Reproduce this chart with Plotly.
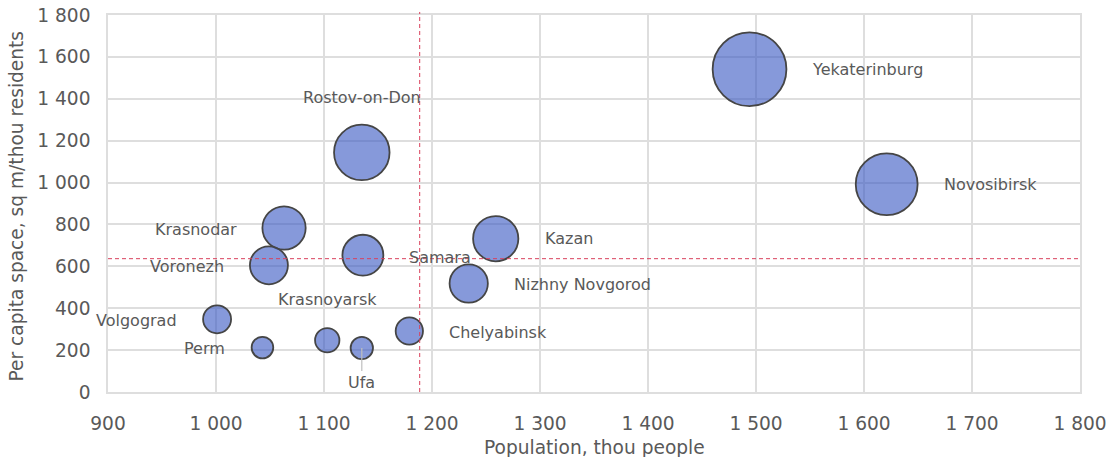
import plotly.graph_objects as go

# City data: population (thou people), per-capita space (sq m / thou residents), bubble size
cities = ["Yekaterinburg", "Novosibirsk", "Rostov-on-Don", "Kazan", "Krasnodar",
          "Voronezh", "Samara", "Nizhny Novgorod", "Volgograd", "Chelyabinsk",
          "Krasnoyarsk", "Ufa", "Perm"]
population = [1494, 1621, 1135, 1259, 1063, 1049, 1136, 1234, 1001, 1179, 1103, 1135, 1043]
space_per_capita = [1541, 992, 1144, 732, 783, 605, 653, 518, 347, 291, 247, 210, 212]
bubble_size = [1000, 703, 566, 376, 344, 265, 308, 269, 144, 137, 109, 92, 86]

x_ticks = [900, 1000, 1100, 1200, 1300, 1400, 1500, 1600, 1700, 1800]
y_ticks = [0, 200, 400, 600, 800, 1000, 1200, 1400, 1600, 1800]

FONT = "Verdana, DejaVu Sans, sans-serif"
TEXT = "#595959"
GRID = "#dedede"

# label placement: anchor side and pixel offset from the bubble centre
label_style = {
    "Yekaterinburg": ("left", 60, 0),
    "Novosibirsk": ("left", 55, 0),
    "Rostov-on-Don": ("center", 0, 55),
    "Kazan": ("left", 47, 0),
    "Krasnodar": ("right", -45, -1),
    "Voronezh": ("right", -43, -1),
    "Samara": ("left", 44, -2),
    "Nizhny Novgorod": ("left", 43, -1),
    "Volgograd": ("right", -38, -1),
    "Chelyabinsk": ("left", 38, -1),
    "Krasnoyarsk": ("center", 0, 41),
    "Perm": ("right", -35, -1),
}

# largest bubble is about 74 px across
sizeref = 2.0 * max(bubble_size) / 73.8 ** 2

fig = go.Figure()
fig.add_trace(go.Scatter(
    x=population, y=space_per_capita, mode="markers",
    marker=dict(size=bubble_size, sizemode="area", sizeref=sizeref, opacity=1,
                color="rgba(60,90,195,0.62)",
                line=dict(color="#454545", width=1.8)),
    hoverinfo="text", text=cities, showlegend=False,
))

annotations = []
for name, xv, yv in zip(cities, population, space_per_capita):
    if name == "Ufa":
        annotations.append(dict(
            x=xv, y=yv, text=name, showarrow=True, arrowhead=0,
            arrowcolor="#bfbfbf", arrowwidth=1.2, ax=0, ay=34,
            font=dict(family=FONT, size=16, color=TEXT)))
        continue
    anchor, dx, dy = label_style[name]
    annotations.append(dict(
        x=xv, y=yv, text=name, showarrow=False, xanchor=anchor, yanchor="middle",
        xshift=dx, yshift=dy, font=dict(family=FONT, size=16, color=TEXT)))

# axis titles
annotations.append(dict(
    xref="paper", yref="paper", x=0.5, y=0, yshift=-55, xanchor="center", yanchor="middle",
    text="Population, thou people", showarrow=False,
    font=dict(family=FONT, size=18.6, color=TEXT)))
annotations.append(dict(
    xref="paper", yref="paper", x=0, y=0.5, xshift=-92, yshift=-3,
    xanchor="center", yanchor="middle",
    text="Per capita space, sq m/thou residents", showarrow=False, textangle=-90,
    font=dict(family=FONT, size=18.6, color=TEXT)))

# mean reference lines
mean_x = sum(population) / len(population)
mean_y = sum(space_per_capita) / len(space_per_capita)
shapes = [
    dict(type="line", xref="x", yref="paper", x0=mean_x, x1=mean_x, y0=0, y1=1.008,
         line=dict(color="#d9405c", width=1, dash="4px,3px")),
    dict(type="line", xref="paper", yref="y", x0=0, x1=1, y0=mean_y, y1=mean_y,
         line=dict(color="#d9405c", width=1, dash="4px,3px")),
]

fig.update_layout(
    width=1113, height=457,
    margin=dict(l=108, r=33, t=15, b=65),
    paper_bgcolor="white", plot_bgcolor="white",
    separators=". ",
    font=dict(family=FONT, color=TEXT),
    annotations=annotations, shapes=shapes,
    xaxis=dict(range=[900, 1800], tickvals=x_ticks, tickformat=",d",
               showgrid=True, gridcolor=GRID, gridwidth=1.5,
               showline=True, mirror=True, linecolor=GRID, linewidth=1.5,
               zeroline=False, ticks="", ticklabelstandoff=14, automargin=False,
               tickfont=dict(family=FONT, size=18.6, color=TEXT)),
    yaxis=dict(range=[0, 1800], tickvals=y_ticks, tickformat=",d",
               showgrid=True, gridcolor=GRID, gridwidth=1.5,
               showline=True, mirror=True, linecolor=GRID, linewidth=1.5,
               zeroline=False, ticks="", ticklabelstandoff=12, automargin=False,
               tickfont=dict(family=FONT, size=18.6, color=TEXT)),
)

fig.write_html("out.html")
